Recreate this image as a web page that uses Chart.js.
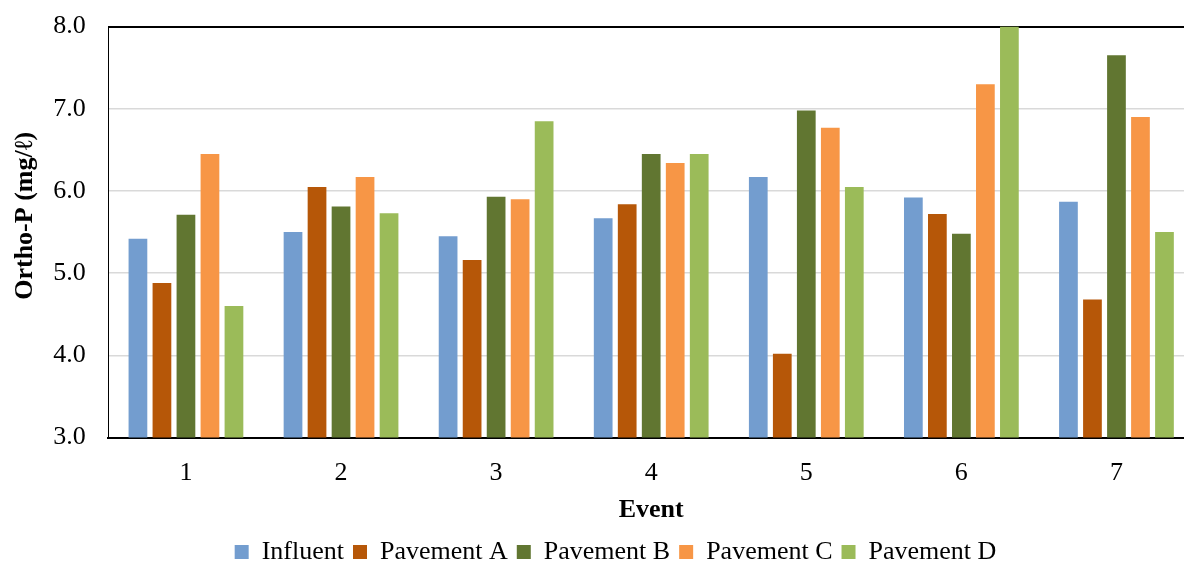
<!DOCTYPE html>
<html>
<head>
<meta charset="utf-8">
<script src="https://cdn.jsdelivr.net/npm/chart.js@4"></script>
<style>
  html, body { margin: 0; padding: 0; background: #fff; overflow: hidden; }
  #wrap { width: 1230px; height: 563px; }
</style>
</head>
<body>
<div id="wrap"><canvas id="chart"></canvas></div>
<script>
const events = ["1", "2", "3", "4", "5", "6", "7"];
const influent  = [5.42, 5.50, 5.45, 5.67, 6.17, 5.92, 5.87];
const pavementA = [4.88, 6.05, 5.16, 5.84, 4.02, 5.72, 4.68];
const pavementB = [5.71, 5.81, 5.93, 6.45, 6.98, 5.48, 7.65];
const pavementC = [6.45, 6.17, 5.90, 6.34, 6.77, 7.30, 6.90];
const pavementD = [4.60, 5.73, 6.85, 6.45, 6.05, 8.00, 5.50];
const yTicks = [3, 4, 5, 6, 7, 8];

const serif = "'Liberation Serif', 'Times New Roman', serif";
Chart.defaults.font.family = serif;
Chart.defaults.color = "#000";

const series = [
  { label: "Influent", data: influent, color: "#739dcf" },
  { label: "Pavement A", data: pavementA, color: "#b65708" },
  { label: "Pavement B", data: pavementB, color: "#617631" },
  { label: "Pavement C", data: pavementC, color: "#f79646" },
  { label: "Pavement D", data: pavementD, color: "#9bbb59" },
];

// legend sits a little right of where Chart.js centres it
const legendShift = {
  id: "legendShift",
  afterLayout(chart) {
    chart.legend.left += 13;
    chart.legend.right += 13;
  },
};

new Chart(document.getElementById("chart"), {
  type: "bar",
  data: {
    labels: events,
    datasets: series.map((s) => ({
      label: s.label,
      data: s.data,
      backgroundColor: s.color,
      borderWidth: 0,
      categoryPercentage: 0.774,
      barPercentage: 0.78,
    })),
  },
  plugins: [legendShift],
  options: {
    responsive: true,
    maintainAspectRatio: false,
    animation: false,
    layout: { padding: { left: 11, right: 36, top: 0, bottom: -12 } },
    plugins: {
      tooltip: { enabled: false },
      legend: {
        position: "bottom",
        labels: { font: { size: 26 }, boxWidth: 14, boxHeight: 14, padding: 9, color: "#000" },
      },
    },
    scales: {
      x: {
        grid: { display: false, drawTicks: false },
        border: { color: "#000", width: 2 },
        ticks: { font: { size: 26 }, padding: 20 },
        title: { display: true, text: "Event", font: { size: 26, weight: "bold" }, padding: { top: -14, bottom: 4 } },
      },
      y: {
        min: 3,
        max: 8,
        afterBuildTicks: (axis) => { axis.ticks = yTicks.map((v) => ({ value: v })); },
        grid: {
          drawTicks: false,
          lineWidth: (ctx) => (ctx.tick && ctx.tick.value === 8 ? 2 : 1.5),
          color: (ctx) => (ctx.tick && ctx.tick.value === 8 ? "#000" : "#d9d9d9"),
        },
        border: { color: "#000", width: 1 },
        // trailing spaces keep the label gap while the top padding stays small
        ticks: { font: { size: 26 }, padding: 11, callback: (v) => Number(v).toFixed(1) + " \u2009" },
        title: { display: true, text: "     Ortho-P (mg/ℓ)", font: { size: 26, weight: "bold" }, padding: { top: -1, bottom: 1 } },
      },
    },
  },
});
</script>
</body>
</html>
